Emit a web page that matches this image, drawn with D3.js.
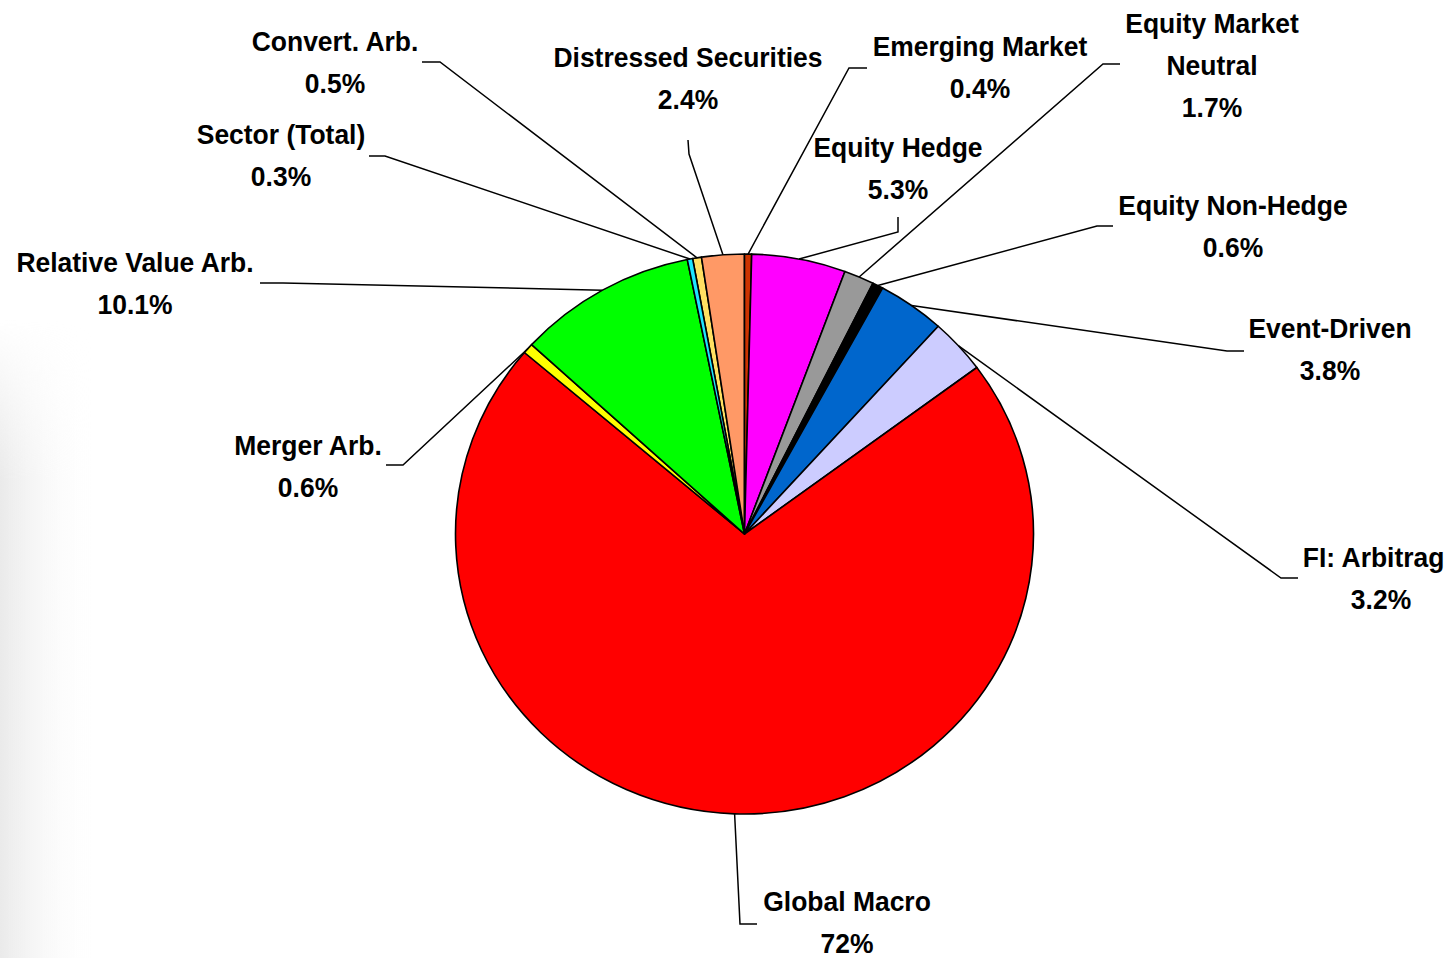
<!DOCTYPE html>
<html>
<head>
<meta charset="utf-8">
<script src="https://cdn.jsdelivr.net/npm/d3@7/dist/d3.min.js"></script>
<style>
  html, body { margin: 0; padding: 0; background: #fff; }
  svg { display: block; }
  .lbl { font-family: Arial, "Liberation Sans", Helvetica, sans-serif; font-weight: bold; font-size: 28px; fill: #000; }
</style>
</head>
<body>
<svg id="chart" width="1444" height="958"></svg>
<script>
// Strategy allocation (percent of total)
const categories = ["Convert. Arb.", "Distressed Securities", "Emerging Market", "Equity Hedge",
  "Equity Market Neutral", "Equity Non-Hedge", "Event-Driven", "FI: Arbitrage",
  "Global Macro", "Merger Arb.", "Relative Value Arb.", "Sector (Total)"];
const shares = [0.5, 2.4, 0.4, 5.3, 1.7, 0.6, 3.8, 3.2, 72, 0.6, 10.1, 0.3];
const valueLabels = ["0.5%", "2.4%", "0.4%", "5.3%", "1.7%", "0.6%", "3.8%", "3.2%", "72%", "0.6%", "10.1%", "0.3%"];

// Slice fills, in category order
const palette = ["#FFE062", "#FF9966", "#CC3300", "#FF00FF", "#999999", "#000000",
  "#0066CC", "#CCCCFF", "#FF0000", "#FFFF00", "#00FF00", "#1EE6FF"];

// Label placement: name lines, centre x, first baseline, leader elbow and end
const labelLayout = [
  { lines: ["Convert. Arb."], x: 335, y: 51, leader: [[440, 62], [422, 62]] },
  { lines: ["Distressed Securities"], x: 688, y: 67, leader: [[689, 154], [688, 140]] },
  { lines: ["Emerging Market"], x: 980, y: 56, leader: [[849, 68], [867, 68]] },
  { lines: ["Equity Hedge"], x: 898, y: 157, leader: [[898, 232], [898, 217]] },
  { lines: ["Equity Market", "Neutral"], x: 1212, y: 33, leader: [[1103, 64], [1120, 64]] },
  { lines: ["Equity Non-Hedge"], x: 1233, y: 215, leader: [[1097, 226], [1113, 226]] },
  { lines: ["Event-Driven"], x: 1330, y: 338, leader: [[1227, 351], [1244, 351]] },
  { lines: ["FI: Arbitrage"], x: 1381, y: 567, leader: [[1281, 578], [1298, 578]] },
  { lines: ["Global Macro"], x: 847, y: 911, leader: [[740, 924], [757, 924]] },
  { lines: ["Merger Arb."], x: 308, y: 455, leader: [[403, 465], [386, 465]] },
  { lines: ["Relative Value Arb."], x: 135, y: 272, leader: [[283, 283], [260, 283]] },
  { lines: ["Sector (Total)"], x: 281, y: 144, leader: [[385, 156], [369, 156]] }
];

const svg = d3.select("#chart");
const cx = 744.5, cy = 534, rx = 289, ry = 280;
const lineGap = 42;
const squeeze = 0.945;   // labels are set slightly narrow

// faint grey wash along the left edge
const defs = svg.append("defs");
const gH = defs.append("linearGradient").attr("id", "wash").attr("x1", 0).attr("x2", 1).attr("y1", 0).attr("y2", 0);
gH.append("stop").attr("offset", "0%").attr("stop-color", "#dcdcdc").attr("stop-opacity", 0.6);
gH.append("stop").attr("offset", "100%").attr("stop-color", "#ffffff").attr("stop-opacity", 0);
const gV = defs.append("linearGradient").attr("id", "washFade").attr("x1", 0).attr("x2", 0).attr("y1", 0).attr("y2", 1);
gV.append("stop").attr("offset", "0%").attr("stop-color", "#fff").attr("stop-opacity", 0);
gV.append("stop").attr("offset", "25%").attr("stop-color", "#fff").attr("stop-opacity", 1);
gV.append("stop").attr("offset", "100%").attr("stop-color", "#fff").attr("stop-opacity", 1);
const mask = defs.append("mask").attr("id", "washMask");
mask.append("rect").attr("x", 0).attr("y", 320).attr("width", 120).attr("height", 638).attr("fill", "url(#washFade)");
svg.append("rect").attr("x", 0).attr("y", 320).attr("width", 100).attr("height", 638)
  .attr("fill", "url(#wash)").attr("mask", "url(#washMask)");

const total = d3.sum(shares);
const data = categories.map((c, i) => ({ name: c, value: shares[i], label: valueLabels[i], color: palette[i], layout: labelLayout[i] }));

// Emerging Market begins at twelve o'clock; earlier slices wrap before it
const offset = -2 * Math.PI * d3.sum(shares.slice(0, 2)) / total;
const pie = d3.pie().sort(null).value(d => d.value)
  .startAngle(offset).endAngle(offset + 2 * Math.PI);
const arcs = pie(data);
const arc = d3.arc().innerRadius(0).outerRadius(ry);

const pieG = svg.append("g").attr("transform", `translate(${cx},${cy}) scale(${rx / ry},1)`);
pieG.selectAll("path").data(arcs).join("path")
  .attr("d", arc)
  .attr("fill", d => d.data.color)
  .attr("stroke", "#000")
  .attr("stroke-width", 1.6)
  .attr("stroke-linejoin", "round")
  .attr("vector-effect", "non-scaling-stroke");

// leader lines from slice edge to label
const edgePoint = d => {
  const a = (d.startAngle + d.endAngle) / 2;
  return [cx + rx * Math.sin(a), cy - ry * Math.cos(a)];
};
svg.append("g").selectAll("polyline").data(arcs).join("polyline")
  .attr("points", d => [edgePoint(d), ...d.data.layout.leader].map(p => p.join(",")).join(" "))
  .attr("fill", "none")
  .attr("stroke", "#000")
  .attr("stroke-width", 1.5);

// labels: category name lines then value
const lblG = svg.append("g");
arcs.forEach(d => {
  const L = d.data.layout;
  const rows = [...L.lines, d.data.label];
  const t = lblG.append("text").attr("class", "lbl").attr("text-anchor", "middle")
    .attr("transform", `translate(${L.x},${L.y}) scale(${squeeze},1)`);
  rows.forEach((r, k) => {
    t.append("tspan").attr("x", 0).attr("y", k * lineGap).text(r);
  });
});
</script>
</body>
</html>
